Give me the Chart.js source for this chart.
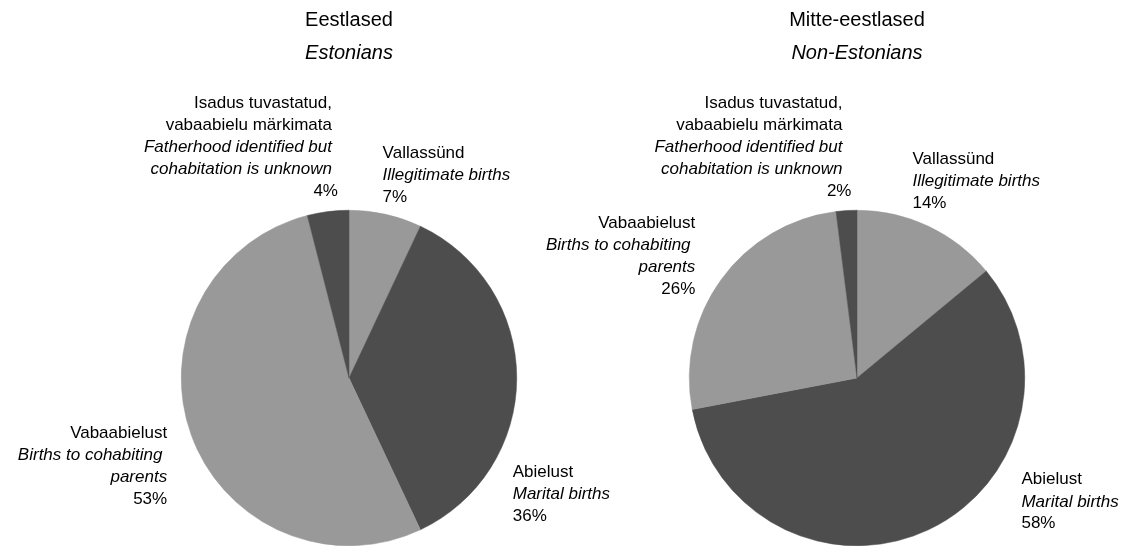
<!DOCTYPE html>
<html>
<head>
<meta charset="utf-8">
<script src="https://cdn.jsdelivr.net/npm/chart.js"></script>
<style>
html, body { margin: 0; padding: 0; background: #fff; }
#wrap { position: relative; width: 1124px; height: 546px; overflow: hidden; }
canvas { position: absolute; left: 0; top: 0; }
</style>
</head>
<body>
<div id="wrap">
  <canvas id="leftChart" width="1124" height="546"></canvas>
  <canvas id="rightChart" width="1124" height="546"></canvas>
</div>
<script>
// data
const categories = ["Vallassünd", "Abielust", "Vabaabielust", "Isadus tuvastatud, vabaabielu märkimata"];
const estonians = [7, 36, 53, 4];
const nonEstonians = [14, 58, 26, 2];

// label text: estonian lines, english (italic) lines
const estLines = [["Vallassünd"], ["Abielust"], ["Vabaabielust"], ["Isadus tuvastatud,", "vabaabielu märkimata"]];
const engLines = [["Illegitimate births"], ["Marital births"], ["Births to cohabiting ", "parents"], ["Fatherhood identified but", "cohabitation is unknown"]];

const sliceColors = ['#999999', '#4d4d4d', '#999999', '#4d4d4d'];
const FONT = "'Liberation Sans', Arial, sans-serif";

// draws the multi-line labels next to each slice
const pieLabels = {
  id: 'pieLabels',
  afterDatasetsDraw(chart, args, opts) {
    const ctx = chart.ctx;
    const meta = chart.getDatasetMeta(0);
    const values = chart.data.datasets[0].data;
    ctx.save();
    ctx.fillStyle = '#000';
    ctx.textBaseline = 'middle';
    meta.data.forEach((arc, i) => {
      const p = arc.getProps(['x', 'y', 'startAngle', 'endAngle', 'outerRadius'], true);
      const mid = (p.startAngle + p.endAngle) / 2;
      const ax = p.x + Math.cos(mid) * p.outerRadius;
      const ay = p.y + Math.sin(mid) * p.outerRadius;
      const n = opts.nudge[i];
      ctx.textAlign = Math.cos(mid) >= 0 ? 'left' : 'right';
      let x = ax + n[0], y = ay + n[1];
      const lines = [];
      estLines[i].forEach(t => lines.push([t, 'normal']));
      engLines[i].forEach(t => lines.push([t, 'italic']));
      lines.push([values[i] + '%', 'normal']);
      lines.forEach((l, k) => {
        ctx.font = l[1] + ' 17px ' + FONT;
        let xx = x;
        if (k === lines.length - 1 && n[2]) xx += n[2];
        ctx.fillText(l[0], xx, y + k * 22);
      });
    });
    ctx.restore();
  }
};

function makePie(id, title, subtitle, values, padLeft, padRight, nudge) {
  return new Chart(document.getElementById(id), {
    type: 'pie',
    data: {
      labels: categories,
      datasets: [{
        data: values,
        backgroundColor: sliceColors,
        borderColor: sliceColors,
        borderWidth: 0.5
      }]
    },
    options: {
      responsive: false,
      animation: false,
      layout: { padding: { left: padLeft, right: padRight, top: 0, bottom: 0 } },
      plugins: {
        legend: { display: false },
        tooltip: { enabled: false },
        title: {
          display: true, text: title, color: '#000',
          font: { family: FONT, size: 20, weight: 'normal' },
          padding: { top: 8, bottom: 9 }
        },
        subtitle: {
          display: true, text: subtitle, color: '#000',
          font: { family: FONT, size: 20, style: 'italic', weight: 'normal' },
          padding: { top: 0, bottom: 145 }
        },
        pieLabels: { nudge: nudge }
      }
    },
    plugins: [pieLabels]
  });
}

makePie('leftChart', 'Eestlased', 'Estonians', estonians, 181, 607,
  [[-3, -61], [-4, 94], [-24, -2], [4, -108, 6]]);
makePie('rightChart', 'Mitte-eestlased', 'Non-Estonians', nonEstonians, 689, 99,
  [[-16, -67], [93, -50], [-26, -56], [-4, -107, 9]]);
</script>
</body>
</html>
